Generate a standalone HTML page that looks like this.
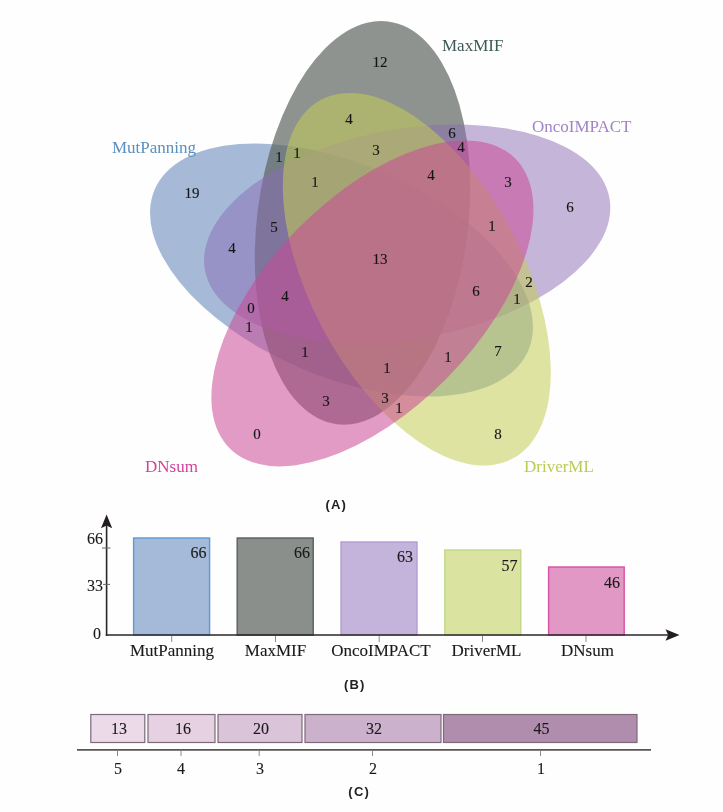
<!DOCTYPE html>
<html>
<head>
<meta charset="utf-8">
<title>Venn figure</title>
<style>
  html, body { margin: 0; padding: 0; background: #fefefe; }
  body { width: 723px; height: 812px; overflow: hidden; }
  svg { display: block; filter: blur(0.4px); }
  .s { font-family: "Liberation Serif", serif; }
  .n { font-family: "Liberation Serif", serif; font-size: 15px; fill: #151515; stroke: #151515; stroke-width: 0.12px; text-anchor: middle; }
  .lab { font-family: "Liberation Serif", serif; font-size: 17px; }
  .cap { font-family: "Liberation Sans", sans-serif; font-size: 13px; font-weight: bold; letter-spacing: 1.2px; fill: #222; text-anchor: middle; }
  .ax { font-family: "Liberation Serif", serif; font-size: 16px; fill: #1a1a1a; stroke: #1a1a1a; stroke-width: 0.12px; }
  .bl { fill: #1a1a1a; stroke: #1a1a1a; stroke-width: 0.12px; }
</style>
</head>
<body>
<svg width="723" height="812" viewBox="0 0 723 812">
  <rect x="0" y="0" width="723" height="812" fill="#fefefe"/>

  <!-- (A) Venn diagram -->
  <g id="venn">
    <ellipse cx="341.5" cy="270" rx="106.3" ry="203.4" transform="rotate(-66.7 341.5 270)" fill="#6b8cbe" fill-opacity="0.6"/>
    <ellipse cx="362.5" cy="222.8" rx="105.5" ry="203" transform="rotate(7.2 362.5 222.8)" fill="#5a605c" fill-opacity="0.68"/>
    <ellipse cx="407.2" cy="234" rx="105" ry="205.4" transform="rotate(80 407.2 234)" fill="#8a6bb4" fill-opacity="0.5"/>
    <ellipse cx="416.8" cy="279.2" rx="106.3" ry="203.4" transform="rotate(-28.1 416.8 279.2)" fill="#c4cc55" fill-opacity="0.55"/>
    <ellipse cx="372.4" cy="303.4" rx="105.5" ry="203.4" transform="rotate(44.4 372.4 303.4)" fill="#ca4996" fill-opacity="0.55"/>
  </g>

  <g id="vennlabels">
    <text class="lab" x="442" y="51" fill="#3d5a57">MaxMIF</text>
    <text class="lab" x="532" y="132" fill="#a183c6">OncoIMPACT</text>
    <text class="lab" x="112" y="153" fill="#5b8fbf">MutPanning</text>
    <text class="lab" x="145" y="472" fill="#d4409a">DNsum</text>
    <text class="lab" x="524" y="472" fill="#bccb55">DriverML</text>
  </g>

  <g id="vennnums">
    <text class="n" x="380" y="67">12</text>
    <text class="n" x="349" y="124">4</text>
    <text class="n" x="376" y="155">3</text>
    <text class="n" x="452" y="138">6</text>
    <text class="n" x="461" y="152">4</text>
    <text class="n" x="431" y="180">4</text>
    <text class="n" x="508" y="187">3</text>
    <text class="n" x="570" y="212">6</text>
    <text class="n" x="492" y="231">1</text>
    <text class="n" x="279" y="162">1</text>
    <text class="n" x="297" y="158">1</text>
    <text class="n" x="315" y="187">1</text>
    <text class="n" x="192" y="198">19</text>
    <text class="n" x="274" y="232">5</text>
    <text class="n" x="232" y="253">4</text>
    <text class="n" x="380" y="264">13</text>
    <text class="n" x="476" y="296">6</text>
    <text class="n" x="529" y="287">2</text>
    <text class="n" x="517" y="304">1</text>
    <text class="n" x="285" y="301">4</text>
    <text class="n" x="251" y="313">0</text>
    <text class="n" x="249" y="332">1</text>
    <text class="n" x="305" y="357">1</text>
    <text class="n" x="387" y="373">1</text>
    <text class="n" x="448" y="362">1</text>
    <text class="n" x="498" y="356">7</text>
    <text class="n" x="326" y="406">3</text>
    <text class="n" x="385" y="403">3</text>
    <text class="n" x="399" y="413">1</text>
    <text class="n" x="257" y="439">0</text>
    <text class="n" x="498" y="439">8</text>
  </g>

  <text class="cap" x="336.3" y="508.8">(A)</text>

  <!-- (B) Bar chart -->
  <g id="bars">
    <rect x="133.6" y="538" width="76" height="97" fill="#a5b9d9" stroke="#5b9bd5" stroke-width="1.4"/>
    <rect x="237.2" y="538" width="76" height="97" fill="#8a8f8c" stroke="#56605d" stroke-width="1.4"/>
    <rect x="341" y="542" width="76" height="93" fill="#c4b3da" stroke="#b49bd2" stroke-width="1.4"/>
    <rect x="444.8" y="550" width="76" height="85" fill="#dbe3a0" stroke="#bfd888" stroke-width="1.4"/>
    <rect x="548.6" y="567" width="75.6" height="68" fill="#e198c4" stroke="#d651a7" stroke-width="1.4"/>
  </g>
  <g id="ticksB" stroke="#8a8a8a" stroke-width="1" fill="none">
    <line x1="171.7" y1="636" x2="171.7" y2="642"/>
    <line x1="275.5" y1="636" x2="275.5" y2="642"/>
    <line x1="379.2" y1="636" x2="379.2" y2="642"/>
    <line x1="482.5" y1="636" x2="482.5" y2="642"/>
    <line x1="586" y1="636" x2="586" y2="642"/>
  </g>
  <g id="axesB" stroke="#2b2626" stroke-width="1.6" fill="none">
    <line x1="106.6" y1="635.8" x2="106.6" y2="524"/>
    <line x1="105.8" y1="635" x2="668" y2="635"/>
    <line x1="102" y1="548" x2="110.5" y2="548" stroke-width="1" stroke="#6a6666"/>
    <line x1="103" y1="584.4" x2="110" y2="584.4" stroke-width="1" stroke="#6a6666"/>
  </g>
  <path d="M106.6 514.5 L112.2 528.2 L106.6 525.6 L101 528.2 Z" fill="#221e1e"/>
  <path d="M679.5 635 L665.5 629.2 L668.2 635 L665.5 640.8 Z" fill="#221e1e"/>

  <g id="axisBlabels">
    <text class="ax" x="87" y="544">66</text>
    <text class="ax" x="87" y="590.5">33</text>
    <text class="ax" x="93" y="638.5">0</text>
  </g>
  <g id="barvals">
    <text class="ax" x="198.5" y="557.6" text-anchor="middle">66</text>
    <text class="ax" x="302" y="557.6" text-anchor="middle">66</text>
    <text class="ax" x="405" y="562" text-anchor="middle">63</text>
    <text class="ax" x="509.5" y="571" text-anchor="middle">57</text>
    <text class="ax" x="612" y="588" text-anchor="middle">46</text>
  </g>
  <g id="barnames">
    <text class="lab bl" x="172" y="656" text-anchor="middle">MutPanning</text>
    <text class="lab bl" x="275.5" y="656" text-anchor="middle">MaxMIF</text>
    <text class="lab bl" x="381" y="656" text-anchor="middle">OncoIMPACT</text>
    <text class="lab bl" x="486.5" y="656" text-anchor="middle">DriverML</text>
    <text class="lab bl" x="587.5" y="656" text-anchor="middle">DNsum</text>
  </g>

  <text class="cap" x="354.8" y="689.2">(B)</text>

  <!-- (C) Segmented bar -->
  <g id="segs" stroke="#7d6a78" stroke-width="1.2">
    <rect x="90.8" y="714.5" width="54" height="28" fill="#eddae8"/>
    <rect x="148" y="714.5" width="67" height="28" fill="#e5d1e2"/>
    <rect x="218" y="714.5" width="84" height="28" fill="#dac4d9"/>
    <rect x="305" y="714.5" width="136" height="28" fill="#ccb1cc"/>
    <rect x="443.5" y="714.5" width="193.5" height="28" fill="#b08dad"/>
  </g>
  <g id="ticksC" stroke="#8a8a8a" stroke-width="1" fill="none">
    <line x1="117.5" y1="751" x2="117.5" y2="756"/>
    <line x1="181" y1="751" x2="181" y2="756"/>
    <line x1="259.2" y1="751" x2="259.2" y2="756"/>
    <line x1="372.5" y1="751" x2="372.5" y2="756"/>
    <line x1="540.5" y1="751" x2="540.5" y2="756"/>
  </g>
  <line x1="77" y1="749.8" x2="651" y2="749.8" stroke="#5a5656" stroke-width="1.8"/>
  <g id="segvals">
    <text class="ax" x="119" y="734" text-anchor="middle">13</text>
    <text class="ax" x="183" y="734" text-anchor="middle">16</text>
    <text class="ax" x="261" y="734" text-anchor="middle">20</text>
    <text class="ax" x="374" y="734" text-anchor="middle">32</text>
    <text class="ax" x="541.5" y="734" text-anchor="middle">45</text>
  </g>
  <g id="seglabels">
    <text class="ax" x="118" y="774" text-anchor="middle">5</text>
    <text class="ax" x="181" y="774" text-anchor="middle">4</text>
    <text class="ax" x="260" y="774" text-anchor="middle">3</text>
    <text class="ax" x="373" y="774" text-anchor="middle">2</text>
    <text class="ax" x="541" y="774" text-anchor="middle">1</text>
  </g>

  <text class="cap" x="359.2" y="795.8">(C)</text>
</svg>
</body>
</html>
